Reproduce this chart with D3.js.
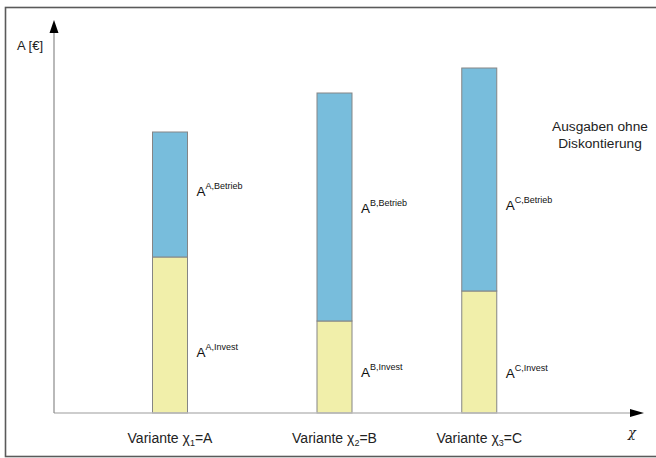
<!DOCTYPE html>
<html><head><meta charset="utf-8">
<script src="https://cdn.jsdelivr.net/npm/d3@7"></script>
<style>
body{margin:0;background:#fff;}
svg{display:block;font-family:"Liberation Sans",Arial,sans-serif;}
</style></head>
<body>
<svg id="chart" width="656" height="458"></svg>
<script>
// ---- data ----
const categories = ["A", "B", "C"];
const chiIndex = ["1", "2", "3"];
const chiPosition = [1.0, 2.0, 2.88];      // position on the χ axis
const investValues = [156, 92, 122];        // A^{x,Invest}
const betriebValues = [125, 228, 223];      // A^{x,Betrieb}
const betriebLabelLevel = [217, 200, 203];
const investLabelLevel = [56, 36, 35];
const yAxisLabel = "A [€]";
const xAxisLabel = "χ";
const noteLines = ["Ausgaben ohne", "Diskontierung"];

// ---- layout ----
const svg = d3.select("#chart");
const x0 = 54, yBase = 413, yTop = 20, xEnd = 644;
const x = d3.scaleLinear().domain([0, 1]).range([5.5, 170]);
const y = d3.scaleLinear().domain([0, 393]).range([yBase, yTop]);
const barW = 35;
const colBlue = "#78bddc", colYellow = "#f1efaa", colStroke = "#858585";

// frame
svg.append("rect").attr("x", 5.5).attr("y", 7.5).attr("width", 700).attr("height", 449)
  .attr("fill", "none").attr("stroke", "#5a5a5a").attr("stroke-width", 1.6);

// bars
const data = categories.map((c, i) => ({c, i, chi: chiPosition[i], inv: investValues[i], bet: betriebValues[i]}));
const g = svg.append("g");
g.selectAll("rect.inv").data(data).join("rect").attr("class", "inv")
  .attr("x", d => x(d.chi) - barW / 2).attr("width", barW)
  .attr("y", d => y(d.inv)).attr("height", d => y(0) - y(d.inv))
  .attr("fill", colYellow).attr("stroke", colStroke).attr("stroke-width", 1);
g.selectAll("rect.bet").data(data).join("rect").attr("class", "bet")
  .attr("x", d => x(d.chi) - barW / 2).attr("width", barW)
  .attr("y", d => y(d.inv + d.bet)).attr("height", d => y(d.inv) - y(d.inv + d.bet))
  .attr("fill", colBlue).attr("stroke", colStroke).attr("stroke-width", 1);

// axes
svg.append("line").attr("x1", x0).attr("x2", xEnd - 12).attr("y1", yBase).attr("y2", yBase)
  .attr("stroke", "#bdbdbd").attr("stroke-width", 1.5);
svg.append("line").attr("x1", x0).attr("x2", x0).attr("y1", yBase).attr("y2", yTop + 12)
  .attr("stroke", "#8a8a8a").attr("stroke-width", 1.2);
svg.append("path").attr("d", d3.line()([[x0, yTop], [x0 - 4.5, yTop + 13], [x0 + 4.5, yTop + 13]]) + "Z").attr("fill", "#000");
svg.append("path").attr("d", d3.line()([[xEnd, yBase], [xEnd - 14, yBase - 4], [xEnd - 14, yBase + 4]]) + "Z").attr("fill", "#000");

// axis labels
svg.append("text").attr("x", 17).attr("y", 50).attr("font-size", 13).attr("fill", "#222").text(yAxisLabel);
svg.append("text").attr("x", 628).attr("y", 437).attr("font-size", 13).attr("font-family", "DejaVu Serif").attr("font-style", "italic").attr("fill", "#222").text(xAxisLabel);

// category labels
const cat = svg.selectAll("text.cat").data(data).join("text").attr("class", "cat")
  .attr("x", d => x(d.chi)).attr("y", 443).attr("text-anchor", "middle")
  .attr("font-size", 14).attr("fill", "#222");
cat.append("tspan").text("Variante ");
cat.append("tspan").text("χ");
cat.append("tspan").attr("font-size", 9).attr("dy", 3).text(d => chiIndex[d.i]);
cat.append("tspan").attr("dy", -3).text(d => "=" + d.c);

// segment labels
function segLabel(levels, suffix) {
  const t = svg.selectAll("text.l" + suffix).data(data).join("text").attr("class", "l" + suffix)
    .attr("x", d => x(d.chi) + barW / 2 + 9).attr("y", (d, i) => y(levels[i]))
    .attr("font-size", 13.5).attr("fill", "#111");
  t.append("tspan").text("A");
  t.append("tspan").attr("font-size", 9).attr("dy", -7).text(d => d.c + "," + suffix);
}
segLabel(betriebLabelLevel, "Betrieb");
segLabel(investLabelLevel, "Invest");

// note
svg.append("text").attr("x", 600).attr("y", 131).attr("text-anchor", "middle").attr("font-size", 13.7).attr("fill", "#222")
  .selectAll("tspan").data(noteLines).join("tspan").attr("x", 600).attr("dy", (d, i) => i ? 17 : 0).text(d => d);
</script>
</body></html>
